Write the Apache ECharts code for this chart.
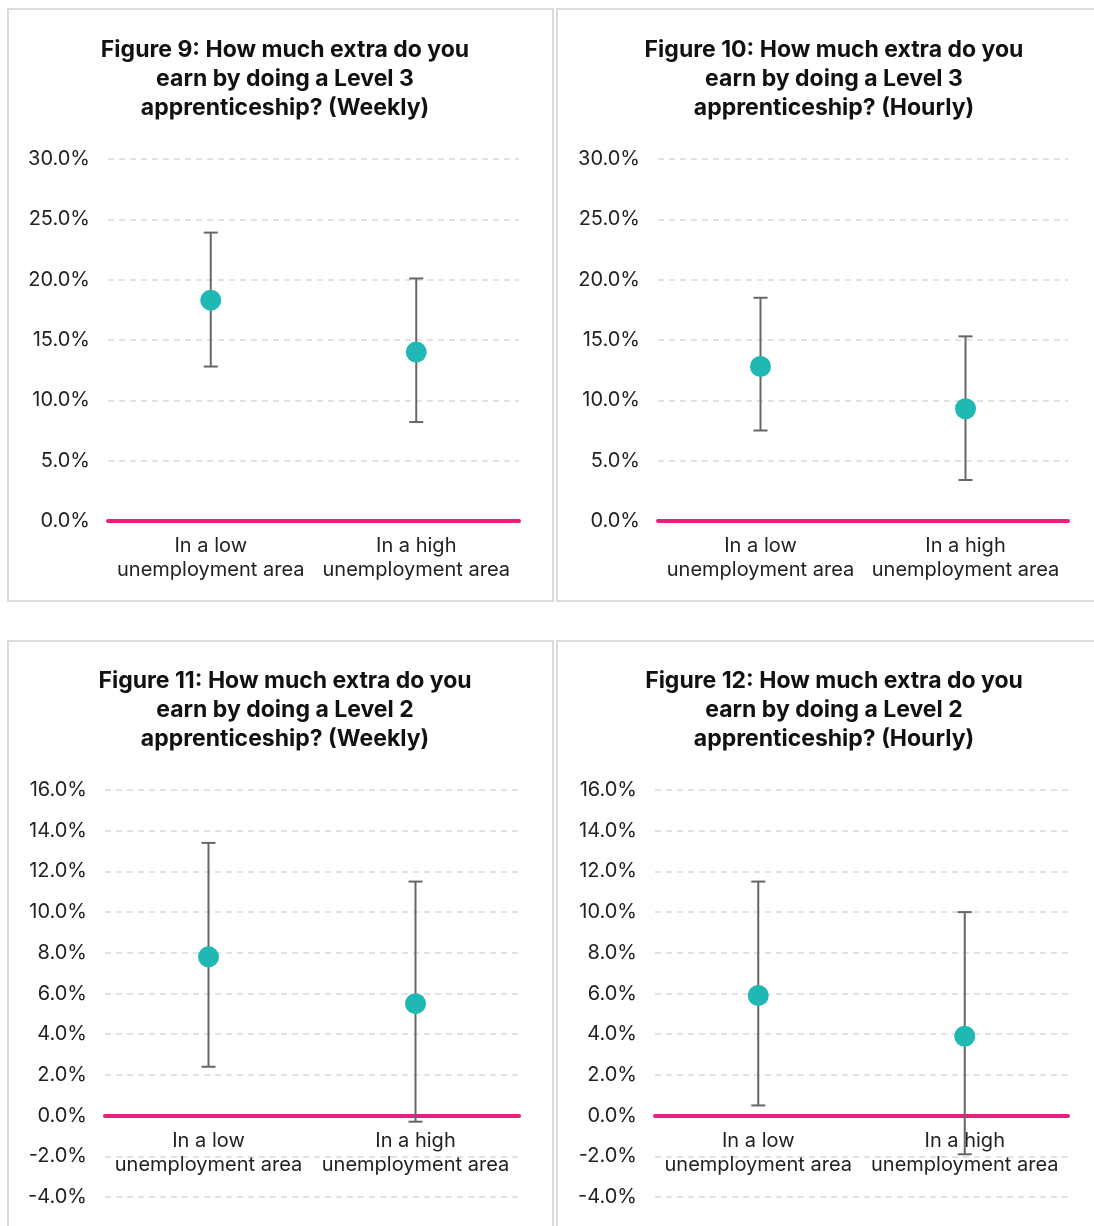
<!DOCTYPE html>
<html>
<head>
<meta charset="utf-8">
<script src="https://cdn.jsdelivr.net/npm/echarts@6/dist/echarts.min.js"></script>
<style>
  html, body { margin: 0; padding: 0; background: #fff; width: 1094px; height: 1226px; overflow: hidden; }
  .chart { position: absolute; }
  .frame { position: absolute; border: 2px solid #dcdcdc; box-sizing: border-box; pointer-events: none; z-index: 5; }
</style>
</head>
<body>
<div id="c9" class="chart"></div>
<div id="c10" class="chart"></div>
<div id="c11" class="chart"></div>
<div id="c12" class="chart"></div>
<script>
// categories shared by all four figures
const categories = ['In a low\nunemployment area', 'In a high\nunemployment area'];

// Figure 9: Level 3, weekly (%)
const fig9Mean = [18.3, 14.0];
const fig9Lower = [12.8, 8.2];
const fig9Upper = [23.9, 20.1];

// Figure 10: Level 3, hourly (%)
const fig10Mean = [12.8, 9.3];
const fig10Lower = [7.5, 3.4];
const fig10Upper = [18.5, 15.3];

// Figure 11: Level 2, weekly (%)
const fig11Mean = [7.8, 5.5];
const fig11Lower = [2.4, -0.3];
const fig11Upper = [13.4, 11.5];

// Figure 12: Level 2, hourly (%)
const fig12Mean = [5.9, 3.9];
const fig12Lower = [0.5, -1.9];
const fig12Upper = [11.5, 10.0];

const level3Ticks = { min: 0, max: 30, interval: 5 };
const level2Ticks = { min: -4, max: 16, interval: 2 };

const FONT = 'Inter, "Noto Sans", sans-serif';

function drawFigure(id, box, plot, title, mean, lower, upper, ticks) {
  const el = document.getElementById(id);
  el.style.left = box.x + 'px';
  el.style.top = box.y + 'px';
  el.style.width = box.w + 'px';
  el.style.height = box.h + 'px';

  const frame = document.createElement('div');
  frame.className = 'frame';
  frame.style.left = box.x + 'px';
  frame.style.top = box.y + 'px';
  frame.style.width = box.w + 'px';
  frame.style.height = box.h + 'px';
  document.body.appendChild(frame);

  const myChart = echarts.init(el, null, { renderer: 'canvas' });

  const errData = categories.map((c, i) => [i, lower[i], upper[i]]);
  const plotH = plot.bottom - plot.top;
  // category axis sits on the zero line, labels move with it
  const zeroOffset = -(0 - ticks.min) / (ticks.max - ticks.min) * plotH;

  const option = {
    animation: false,
    title: {
      text: title,
      left: plot.titleX - box.x,
      top: plot.titleY - box.y,
      textAlign: 'center',
      textStyle: {
        fontFamily: FONT,
        fontSize: 23,
        fontWeight: 'bold',
        color: '#111',
        lineHeight: 29
      }
    },
    grid: {
      left: plot.left - box.x,
      top: plot.top - box.y,
      width: plot.right - plot.left,
      height: plotH,
      containLabel: false,
      outerBoundsMode: 'none'
    },
    xAxis: {
      type: 'category',
      data: categories,
      boundaryGap: true,
      position: 'bottom',
      offset: zeroOffset,
      axisLine: { onZero: false, lineStyle: { color: '#e8207a', width: 4 } },
      axisTick: { show: false },
      splitLine: { show: false },
      axisLabel: {
        fontFamily: FONT,
        fontSize: 20,
        color: '#222',
        lineHeight: 24,
        margin: 13,
        interval: 0
      }
    },
    yAxis: {
      type: 'value',
      min: ticks.min,
      max: ticks.max,
      interval: ticks.interval,
      axisLine: { show: false },
      axisTick: { show: false },
      splitLine: { lineStyle: { color: '#d9d9d9', width: 1.5, type: [6, 5] } },
      axisLabel: {
        fontFamily: FONT,
        fontSize: 20,
        color: '#222',
        margin: 18,
        formatter: v => v.toFixed(1) + '%'
      }
    },
    series: [
      {
        type: 'custom',
        z: 3,
        data: errData,
        encode: { x: 0, y: [1, 2] },
        renderItem: function (params, api) {
          const x = api.value(0);
          const lo = api.coord([x, api.value(1)]);
          const hi = api.coord([x, api.value(2)]);
          const cap = 7;
          const style = { stroke: '#666', lineWidth: 2 };
          return {
            type: 'group',
            children: [
              { type: 'line', shape: { x1: lo[0], y1: lo[1], x2: hi[0], y2: hi[1] }, style: style },
              { type: 'line', shape: { x1: hi[0] - cap, y1: hi[1], x2: hi[0] + cap, y2: hi[1] }, style: style },
              { type: 'line', shape: { x1: lo[0] - cap, y1: lo[1], x2: lo[0] + cap, y2: lo[1] }, style: style }
            ]
          };
        }
      },
      {
        type: 'scatter',
        z: 4,
        data: mean,
        symbol: 'circle',
        symbolSize: 21,
        itemStyle: { color: '#1fb8b3', opacity: 1 }
      }
    ]
  };

  option && myChart.setOption(option);
}

drawFigure('c9', { x: 7, y: 8, w: 547, h: 594 },
  { left: 108, right: 519, top: 159, bottom: 521, titleX: 280, titleY: 31 },
  'Figure 9: How much extra do you\nearn by doing a Level 3\napprenticeship? (Weekly)',
  fig9Mean, fig9Lower, fig9Upper, level3Ticks);

drawFigure('c10', { x: 556, y: 8, w: 545, h: 594 },
  { left: 658, right: 1068, top: 159, bottom: 521, titleX: 829, titleY: 31 },
  'Figure 10: How much extra do you\nearn by doing a Level 3\napprenticeship? (Hourly)',
  fig10Mean, fig10Lower, fig10Upper, level3Ticks);

drawFigure('c11', { x: 7, y: 640, w: 547, h: 594 },
  { left: 105, right: 519, top: 790, bottom: 1197, titleX: 280, titleY: 662 },
  'Figure 11: How much extra do you\nearn by doing a Level 2\napprenticeship? (Weekly)',
  fig11Mean, fig11Lower, fig11Upper, level2Ticks);

drawFigure('c12', { x: 556, y: 640, w: 545, h: 594 },
  { left: 655, right: 1068, top: 790, bottom: 1197, titleX: 829, titleY: 662 },
  'Figure 12: How much extra do you\nearn by doing a Level 2\napprenticeship? (Hourly)',
  fig12Mean, fig12Lower, fig12Upper, level2Ticks);
</script>
</body>
</html>
